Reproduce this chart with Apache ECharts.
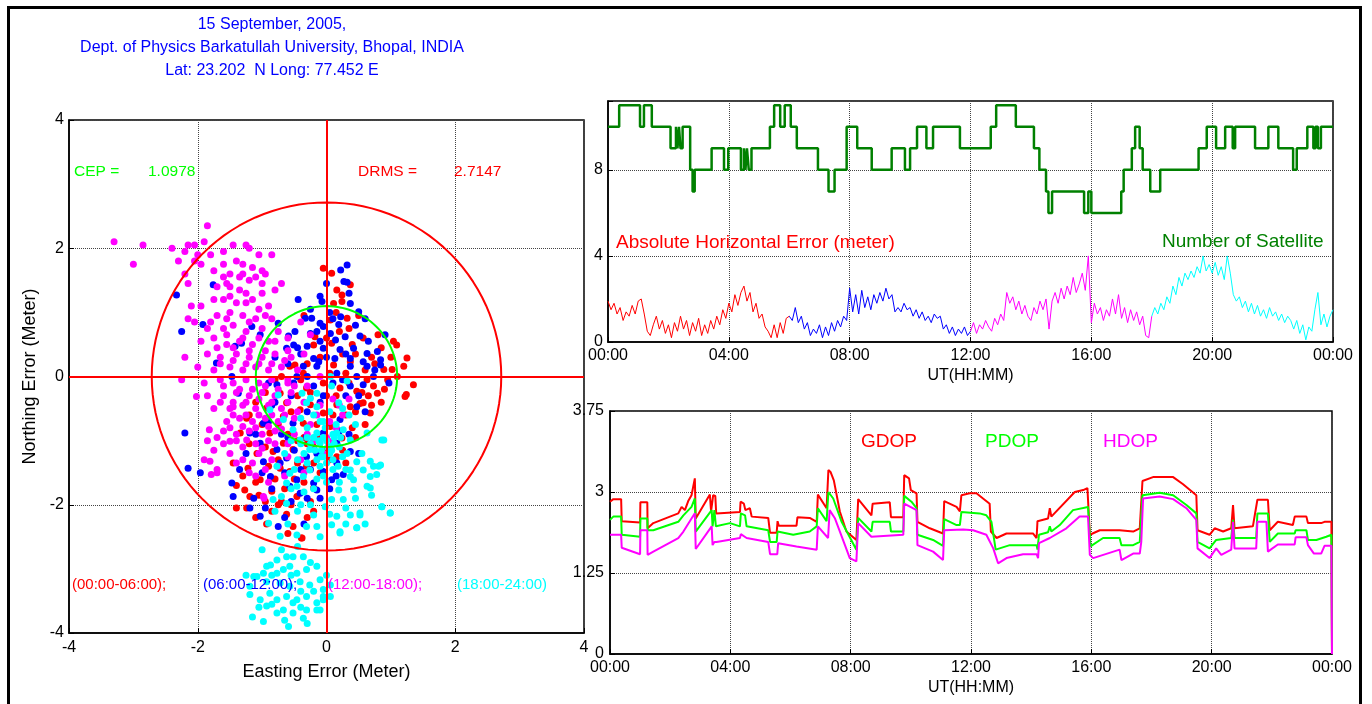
<!DOCTYPE html>
<html>
<head>
<meta charset="utf-8">
<title>GPS position error, 15 September 2005</title>
<script src="https://cdn.jsdelivr.net/npm/echarts@6.0.0/dist/echarts.min.js"></script>
<style>
html, body { margin: 0; padding: 0; background: #fff; }
#chart { width: 1372px; height: 704px; }
</style>
</head>
<body>
<div id="chart"></div>
<script>
// scatter of easting / northing error (meter), one array per 6 hour block
const ptsRed = [
  [-0.05, 1.69], [0.08, 1.61], [0.16, 1.35], [0.24, 1.27], [0.37, 1.43], [0.11, 1.14], [0.24, 1.17], [0.06, 0.88], [0.32, 0.91],
  [-0.18, 0.62], [-0.2, 0.49], [0.08, 0.52], [0.57, 0.6], [1.04, 0.55], [1.09, 0.49], [1.25, 0.29], [1.2, 0.16], [1.02, 0.11],
  [0.89, 0.11], [1.35, -0.13], [1.22, -0.31], [1.24, -0.28], [0.11, 0.18], [0.37, 0.23], [-0.49, 0.18], [-0.36, 0.05], [-0.57, 0.16],
  [0.63, -0.05], [0.73, -0.15], [0.79, -0.26], [0.47, -0.23], [0.21, -0.18], [-0.31, -0.18], [-0.72, -0.26], [-0.62, -0.41],
  [-0.25, -0.44], [0.16, -0.44], [0.57, -0.41], [-1.19, -1.87], [-1.4, -2.05], [-1.27, -1.77], [-1.22, -1.43], [-1.08, -1.2],
  [-1.03, -1.61], [-0.87, -1.58], [-0.85, -1.79], [-0.62, -2.15], [-0.52, -2.34], [-0.39, -2.52], [-0.46, -1.87], [-0.2, -1.74],
  [-1.34, -0.88], [-1.24, -0.65], [-0.93, -0.49], [-0.67, -0.62], [-0.41, -0.52], [-0.88, -0.88], [-0.67, -1.04], [-0.52, -1.14],
  [-0.36, -0.73], [-0.05, -0.57], [0.37, -0.47], [0.52, -0.42], [0.68, -0.57], [0.06, -0.78], [0.24, -0.96], [0.16, -1.25],
  [-0.72, -1.43], [-0.83, -1.17], [-0.57, -1.48], [-0.31, -1.4], [-1.24, -2.05], [-0.38, -2.52], [-0.93, -2.3],
  [-0.1, 0.3], [0.3, 0.05], [0.45, 0.35], [0.7, 0.3], [0.95, -0.05], [0.85, -0.4], [0.6, -0.75], [0.4, -0.8], [-0.15, -0.95],
  [-0.45, -0.3], [-0.8, -0.05], [-1.1, -0.4], [-1.0, -0.75], [-0.2, -1.1], [0.3, -1.35], [-0.65, -1.75], [-1.45, -1.35],
  [-0.95, -1.95], [0.0, -0.3], [0.2, 0.7], [-0.35, 0.95], [0.5, 0.95], [0.8, 0.65], [-0.75, -2.0], [-1.1, -2.2], [-0.3, -2.2],
  [-0.6, -0.9], [-0.45, -1.0], [-0.3, -1.05], [-0.75, -1.3], [-0.5, -1.6], [-0.35, -1.65], [-0.9, -1.4], [-1.1, -1.65],
  [-0.7, -1.95], [-0.55, -2.0], [-0.25, -1.95], [-0.1, -1.5], [0.0, -1.15], [0.1, -0.6], [0.3, -0.6], [0.45, -0.55],
  [0.55, -0.25], [0.35, -0.1], [0.15, -0.3], [-0.05, -0.1], [-0.25, -0.25], [-0.4, -0.05], [-0.55, -0.55], [-0.75, -0.75],
  [-0.95, -1.1], [-1.2, -1.05], [-1.3, -1.55], [-1.05, -1.85], [-0.85, -2.1], [0.4, 0.5], [0.6, 0.1], [0.85, 0.45], [1.0, 0.3],
  [0.9, -0.2], [0.7, -0.45], [0.25, 0.35], [0.05, 0.05], [-0.15, -0.75], [-0.35, -0.95], [-0.8, -1.6], [-0.45, -1.35],
  [-0.2, -1.35], [0.05, -1.3], [0.25, -1.15], [0.45, -0.95], [0.65, -0.3], [1.1, 0.0], [0.75, 0.2], [0.35, 0.75], [0.15, 1.0],
  [0.0, 0.6], [-0.3, 0.2], [-0.7, 0.0], [-0.95, -0.25], [-1.2, -0.6], [-1.4, -1.7], [-0.6, -2.45], [-0.2, -2.1]
];
const ptsBlue = [
  [0.32, 1.74], [0.22, 1.66], [0.27, 1.48], [0.32, 1.47], [-0.1, 1.25], [-0.07, 1.17], [-0.44, 1.2], [0.37, 1.14], [0.5, 1.01],
  [-0.33, 0.91], [-0.23, 0.91], [-0.1, 0.83], [-0.05, 0.78], [0.22, 0.93], [0.19, 0.81], [-0.75, 0.83], [-0.59, 0.63], [-0.49, 0.7],
  [-0.25, 0.67], [-0.15, 0.7], [0.06, 0.67], [0.14, 0.57], [0.29, 0.62], [0.52, 0.63], [0.91, 0.65], [-0.62, 0.44], [-0.51, 0.49],
  [-0.3, 0.47], [-0.05, 0.44], [0.21, 0.42], [0.42, 0.44], [0.63, 0.36], [0.79, 0.39], [0.84, 0.26], [-0.2, 0.28], [-0.12, 0.23],
  [0.13, 0.28], [0.37, 0.28], [0.57, 0.23], [-0.36, 0.16], [-0.15, 0.16], [0.37, 0.16], [0.63, 0.16], [0.84, 0.18], [-0.46, 0.0],
  [0.16, 0.05], [0.47, 0.0], [0.97, -0.1], [-0.9, -0.1], [-0.77, -0.13], [-0.51, -0.1], [0.37, -0.15], [0.57, -0.13], [0.73, 0.0],
  [-1.76, 1.43], [-2.33, 1.27], [-2.25, 0.7], [-1.92, 0.81], [-1.32, 0.52], [-1.42, 0.47], [-1.16, 0.78], [-1.03, 0.65],
  [-1.47, 0.0], [-1.71, 0.21], [-1.37, -0.26], [-2.2, -0.88], [-2.15, -1.43], [-1.96, -1.5], [-1.47, -1.66], [-1.19, -2.05],
  [-1.13, -1.9], [-1.03, -2.18], [-0.98, -1.33], [-0.87, -1.56], [-0.75, -2.34], [-0.72, -1.35], [-0.62, -1.27], [-0.57, -1.71],
  [-0.46, -1.61], [-0.41, -1.82], [-0.31, -1.25], [-0.2, -1.66], [-0.15, -1.77], [-0.05, -1.48], [0.08, -1.61], [0.16, -1.35],
  [0.26, -1.53], [0.37, -1.17], [0.5, -1.2], [0.16, -1.04], [-0.05, -0.88], [-0.31, -0.93], [-0.52, -0.73], [-0.77, -1.14],
  [-1.03, -1.04], [-1.19, -0.88], [-0.98, -0.73], [0.21, -0.67], [0.47, -0.47], [-1.45, -1.87], [-0.4, 0.35], [0.05, 1.0],
  [-0.85, -0.45], [-0.6, -0.95], [0.3, -0.3], [-0.1, -0.4],
  [-0.1, 0.55], [0.1, 0.9], [0.35, 1.3], [0.0, 1.45], [-0.25, 1.05], [0.45, 0.8], [0.65, 0.55], [0.75, 0.1], [0.5, -0.3],
  [0.25, -0.05], [0.0, 0.3], [-0.3, 0.0], [-0.55, -0.3], [-0.3, -0.55], [-0.05, -0.3], [0.2, -0.85], [-0.15, -1.2], [-0.4, -1.45],
  [-0.65, -1.5], [-0.85, -1.75], [-0.95, -2.05], [-0.55, -1.95], [-0.3, -1.9], [-0.1, -1.9], [0.05, -1.75], [-0.25, -1.45],
  [-0.5, -1.15], [-0.7, -0.9], [-0.9, -0.7], [-1.1, -0.9], [-1.25, -1.2], [-1.35, -1.45], [-0.8, -0.4], [-0.6, 0.2], [-0.8, 0.3],
  [0.6, 0.9], [0.1, -0.1], [-0.45, 0.45], [0.3, 0.35], [-0.2, -0.15], [0.6, -0.55], [0.35, -0.9], [0.15, -1.55], [-0.65, -2.2],
  [-0.35, -2.3], [-1.0, -1.5]
];
const ptsMagenta = [
  [-3.3, 2.1], [-2.85, 2.05], [-3.0, 1.75], [-2.4, 2.0], [-2.2, 1.95], [-2.15, 2.05], [-2.05, 2.05], [-1.9, 2.1], [-1.85, 2.35],
  [-2.3, 1.8], [-2.05, 1.8], [-1.8, 1.9], [-1.6, 1.95], [-1.45, 2.05], [-1.2, 2.0], [-1.25, 2.05], [-1.05, 1.9], [-0.85, 1.9],
  [-2.2, 1.6], [-2.15, 1.45], [-1.95, 1.75], [-1.6, 1.75], [-1.4, 1.8], [-1.3, 1.75], [-1.15, 1.7], [-1.0, 1.65], [-1.5, 1.6],
  [-1.55, 1.45], [-1.35, 1.55], [-1.2, 1.5], [-1.1, 1.55], [-0.95, 1.6], [-0.7, 1.45], [-1.7, 1.4], [-1.5, 1.4], [-1.35, 1.35],
  [-1.25, 1.3], [-1.0, 1.3], [-0.8, 1.35], [-2.1, 1.1], [-1.95, 1.1], [-1.6, 1.2], [-1.4, 1.15], [-1.15, 1.2], [-1.05, 1.05],
  [-0.9, 1.1], [-2.15, 0.9], [-2.05, 0.85], [-1.7, 0.95], [-1.5, 1.0], [-1.3, 0.95], [-1.1, 0.9], [-0.85, 0.9], [-1.85, 0.75],
  [-1.6, 0.75], [-1.45, 0.8], [-1.25, 0.7], [-1.0, 0.75], [-0.75, 0.7], [-1.95, 0.55], [-1.75, 0.6], [-1.55, 0.5], [-1.35, 0.55],
  [-1.15, 0.5], [-0.9, 0.55], [-0.6, 0.6], [-2.2, 0.3], [-1.85, 0.35], [-1.65, 0.3], [-1.4, 0.35], [-1.2, 0.3], [-1.0, 0.3],
  [-0.8, 0.35], [-0.55, 0.3], [-2.0, 0.15], [-1.75, 0.1], [-1.5, 0.15], [-1.3, 0.1], [-1.1, 0.15], [-0.9, 0.1], [-0.7, 0.15],
  [-0.45, 0.1], [-2.25, -0.05], [-1.9, -0.1], [-1.65, -0.05], [-1.45, -0.1], [-1.25, -0.05], [-1.05, -0.1], [-0.85, -0.05],
  [-0.6, -0.1], [-1.85, -0.3], [-1.6, -0.3], [-1.4, -0.25], [-1.2, -0.3], [-1.0, -0.25], [-0.8, -0.3], [-0.55, -0.25],
  [-1.75, -0.5], [-1.5, -0.5], [-1.3, -0.45], [-1.1, -0.5], [-0.9, -0.45], [-0.7, -0.5], [-1.55, -0.7], [-1.35, -0.65],
  [-1.15, -0.7], [-0.95, -0.65], [-0.75, -0.7], [-0.5, -0.65], [-1.6, -0.85], [-1.4, -0.9], [-1.2, -0.85], [-1.0, -0.9],
  [-0.8, -0.85], [-1.85, -1.0], [-1.6, -1.05], [-1.4, -1.0], [-1.1, -1.05], [-0.9, -1.0], [-1.75, -1.15], [-1.5, -1.2],
  [-1.3, -1.3], [-1.05, -1.2], [-1.9, -1.3], [-1.7, -1.45], [-1.2, -1.5], [-0.95, -1.45], [-0.65, -1.55], [-0.4, -1.3],
  [-0.3, -0.9], [-0.15, -0.6], [0.05, -0.7], [0.2, -0.45], [-0.35, -0.4], [-0.25, 0.65], [-0.4, 0.85], [-0.05, -1.2],
  [-0.1, 0.0], [0.35, -0.35], [-0.6, -1.25], [-0.35, -1.5], [0.1, -1.0], [-2.02, -0.31], [-1.82, -0.83], [-1.79, -1.53],
  [-1.5, -1.01], [-1.81, -1.32], [-1.7, -1.5], [-1.45, -0.47], [-1.24, -0.99], [-0.98, -1.87], [-0.97, -1.9],
  [-1.65, 0.2], [-1.45, 0.25], [-1.25, 0.2], [-1.05, 0.2], [-0.85, 0.2], [-0.65, 0.25], [-1.6, -0.15], [-1.35, -0.2],
  [-1.15, -0.2], [-0.95, -0.15], [-0.75, -0.2], [-0.5, -0.15], [-1.65, -0.4], [-1.45, -0.4], [-1.25, -0.4], [-1.05, -0.35],
  [-0.85, -0.4], [-0.6, -0.4], [-1.45, -0.6], [-1.25, -0.6], [-1.05, -0.6], [-0.85, -0.6], [-0.65, -0.6], [-1.5, -0.8],
  [-1.3, -0.78], [-1.1, -0.8], [-0.9, -0.78], [-0.7, -0.82], [-1.7, -0.95], [-1.3, -1.1], [-1.0, -1.12], [-0.8, -1.05],
  [-0.6, -1.05], [-1.4, -1.35], [-1.15, -1.35], [-0.85, -1.3], [-0.5, -0.9], [-0.25, -0.75], [-0.1, -0.45], [0.1, -0.35],
  [-0.45, -0.55], [-0.2, -1.0], [0.15, -0.8], [-1.55, 0.65], [-1.3, 0.6], [-1.05, 0.6], [-0.8, 0.55], [-1.7, 0.45],
  [-1.45, 0.45], [-1.2, 0.4], [-0.95, 0.4], [-1.8, 0.85], [-1.55, 0.9], [-1.2, 0.85], [-0.95, 0.95], [-1.75, 1.2], [-1.5, 1.25],
  [-1.25, 1.15], [-1.6, 1.55], [-1.3, 1.6], [-2.0, 1.9], [-1.75, 1.65], [-1.0, 1.45], [-0.6, 0.4], [-0.35, 0.35], [-0.6, -0.05],
  [-0.3, -0.15], [-0.9, -1.65], [-0.75, -1.4], [-1.1, -1.55], [0.25, -0.6], [0.0, -0.95]
];
const ptsCyan = [
  [-0.15, -0.88], [-0.1, -1.04], [-0.26, -1.14], [-0.41, -0.99], [-0.52, -0.83], [-0.67, -0.67], [-0.88, -0.52], [-0.77, -1.4],
  [-0.57, -1.51], [-0.62, -1.66], [-0.7, -1.87], [-0.62, -1.98], [-0.83, -1.92], [-0.9, -2.29], [-0.72, -2.49], [-0.46, -1.71],
  [-0.36, -1.56], [-0.26, -1.46], [-0.05, -1.25], [0.06, -1.09], [0.16, -0.88], [0.26, -0.83], [0.37, -0.99], [0.32, -1.2],
  [0.47, -1.33], [0.37, -1.46], [0.57, -1.46], [0.42, -1.61], [0.68, -1.56], [0.73, -1.4], [0.84, -1.38], [0.89, -0.99],
  [0.63, -0.88], [0.19, -1.77], [0.26, -1.92], [0.08, -1.92], [-0.02, -2.03], [-0.2, -2.16], [-0.15, -2.34], [-0.31, -2.34],
  [-0.46, -2.47], [0.08, -2.31], [0.21, -2.42], [0.47, -2.36], [0.52, -2.13], [0.37, -2.16], [0.16, -2.18], [0.86, -2.03],
  [0.99, -2.13], [0.63, -1.71], [0.68, -1.74], [0.78, -1.53], [-0.87, -2.94], [-0.77, -2.86], [-0.62, -2.81], [-0.52, -2.81],
  [-0.36, -2.81], [-0.98, -3.07], [-1.08, -3.12], [-1.19, -3.27], [-0.93, -3.2], [-0.77, -3.07], [-0.67, -3.01], [-0.57, -2.96],
  [-0.46, -3.07], [-0.31, -3.01], [-0.15, -2.96], [-0.72, -3.22], [-0.57, -3.27], [-0.41, -3.2], [-0.26, -3.25], [-0.1, -3.17],
  [-0.05, -3.32], [0.06, -3.43], [-0.88, -3.38], [-1.03, -3.48], [-1.19, -3.4], [-0.93, -3.58], [-0.77, -3.48], [-0.62, -3.43],
  [-0.46, -3.48], [-0.31, -3.43], [-0.15, -3.53], [-0.67, -3.64], [-0.52, -3.69], [-0.31, -3.64], [-0.15, -3.64], [-0.98, -3.82],
  [-0.59, -3.9], [-0.36, -3.77], [-0.77, -3.69], [-0.52, -3.53], [-0.05, -3.48], [-0.93, -2.96], [-1.13, -3.12], [0.86, -0.99],
  [0.68, -1.32], [0.81, -1.4], [0.99, -2.13], [0.86, -2.03], [0.52, -2.16], [0.47, -2.36], [0.21, -2.44], [0.42, -1.77],
  [0.37, -1.56], [0.06, -3.25], [-0.05, -3.43], [-0.1, -3.64], [-0.75, -0.29], [-0.38, -0.26], [-0.25, -0.34], [-0.15, -0.26],
  [0.08, -0.15], [0.32, -0.07], [0.19, -0.41], [-0.31, -0.41], [-0.15, -0.47], [0.06, 0.0], [-0.05, -0.95], [0.0, -1.0],
  [0.02, -1.1], [-0.08, -1.15], [0.05, -1.2], [-0.12, -1.0], [-0.2, -0.95], [-0.25, -1.05], [0.1, -0.9], [0.12, -1.05],
  [-0.02, -0.8], [-0.3, -0.8], [0.2, -1.1], [-0.15, -1.3], [0.0, -1.35], [-0.35, -1.2], [0.15, -0.75], [-0.1, -0.7],
  [-0.45, -1.3], [0.25, -1.25], [-0.05, -1.55], [0.1, -1.45], [-0.2, -1.75], [-0.4, -2.0],
  [-0.2, -0.6], [0.05, -0.55], [0.25, -0.5], [-0.4, -0.65], [-0.55, -1.0], [-0.65, -1.2], [-0.5, -1.45], [-0.3, -1.35],
  [-0.1, -1.4], [0.1, -1.3], [0.3, -1.45], [0.2, -1.65], [0.0, -1.65], [-0.15, -1.6], [-0.35, -1.8], [-0.55, -1.75],
  [-0.45, -2.1], [-0.25, -2.0], [0.05, -2.15], [0.3, -2.05], [0.45, -1.9], [0.55, -1.2], [0.45, -0.75], [0.35, -0.6],
  [-0.05, -0.7], [0.12, -0.95], [-0.3, -0.95], [-0.4, -1.05], [0.22, -0.95], [-0.18, -1.15], [0.08, -1.15], [-0.08, -1.25],
  [0.18, -1.4], [-0.6, -2.3], [-0.8, -2.1], [0.7, -1.85], [0.6, -2.3], [0.3, -2.3], [-0.1, -2.5], [-1.0, -2.7], [-0.7, -2.7],
  [-0.45, -2.65], [-0.25, -2.9], [-1.05, -3.6], [-1.15, -3.75], [-0.85, -3.1], [-0.55, -3.1], [-0.4, -3.35], [-0.2, -3.35],
  [-0.85, -3.55], [-0.65, -3.8], [-0.4, -3.6], [0.0, -3.1], [-1.25, -3.1], [-0.3, -3.85]
];
const cepRadius = 1.0978;
const drmsRadius = 2.7147;

// number of satellites: value holds from each time (hour UT) until the next
const satTimes = [0, 0.37, 1.06, 1.19, 1.45, 2.07, 2.25, 2.3, 2.35, 2.4, 2.47, 2.72, 2.8, 2.87, 3.43, 3.84, 3.98, 4.4, 4.5, 4.55, 4.6, 4.66, 4.75,
  5.36, 5.5, 5.7, 5.85, 6.05, 6.25, 6.3, 6.95, 7.3, 7.5, 7.9, 8.25, 8.73, 9.39, 9.83, 10.0, 10.23, 10.54, 10.76, 11.65,
  12.67, 12.85, 13.5, 14.1, 14.28, 14.5, 14.58, 14.7, 15.76, 15.9, 16.0, 16.99, 17.07, 17.34, 17.45, 17.6, 17.7, 17.95,
  18.28, 19.55, 19.82, 20.13, 20.43, 20.68, 20.76, 21.42, 21.86, 22.19, 22.68, 22.8, 23.15, 23.35, 23.42, 23.5, 23.6, 23.7, 24];
const satCounts = [10, 11, 10, 11, 10, 9, 10, 9, 10, 9, 10, 8, 7, 8, 9, 8, 9, 8, 9, 8, 9, 8, 9,
  10, 11, 10, 11, 10, 9, 9, 8, 7, 8, 10, 9, 8, 9, 8, 9, 10, 9, 10, 9,
  10, 11, 10, 9, 8, 7, 6, 7, 6, 7, 6, 7, 8, 9, 10, 9, 8, 7,
  8, 9, 10, 9, 10, 9, 10, 9, 10, 9, 8, 9, 10, 9, 10, 9, 10, 10, 10];

// absolute horizontal error (meter), one reading every 0.1 h inside each 6 h block
const errStep = 0.1;
const errRed = [1.9, 1.5, 1.8, 1.3, 1.6, 1.0, 1.4, 1.2, 1.7, 1.3, 1.9, 2.0, 1.3, 0.5, 0.3, 0.8, 1.2, 0.6, 1.0, 0.4,
  0.8, 0.2, 0.9, 0.5, 1.2, 0.6, 1.0, 0.3, 0.9, 0.5, 1.1, 0.3, 0.8, 0.4, 1.0, 0.6, 1.2, 0.8, 1.5, 1.1,
  1.8, 1.4, 2.2, 1.7, 2.3, 2.6, 1.9, 2.3, 1.4, 1.8, 1.1, 1.3, 0.7, 0.5, 0.2, 0.8, 0.2, 0.9, 0.4, 1.1, 1.2];
const errBlue = [1.2, 1.0, 1.6, 0.9, 1.2, 0.6, 0.9, 0.3, 0.6, 0.4, 0.8, 0.2, 0.7, 0.3, 0.9, 0.5, 1.0, 0.7, 1.2, 1.0,
  2.5, 1.4, 2.2, 1.3, 2.4, 1.6, 2.1, 1.5, 2.2, 1.8, 2.3, 1.9, 2.5, 2.0, 2.2, 1.4, 1.6, 1.4, 1.8, 1.5,
  1.6, 1.2, 1.5, 1.1, 1.4, 1.0, 1.2, 0.9, 1.3, 1.1, 1.2, 0.6, 0.8, 0.4, 0.7, 0.3, 0.6, 0.4, 0.7, 0.3, 0.5];
const errMagenta = [0.5, 0.9, 0.4, 0.8, 0.6, 1.0, 0.7, 0.5, 1.1, 0.8, 1.3, 1.0, 2.3, 1.8, 2.1, 1.5, 1.9, 1.3, 1.7, 1.2,
  1.0, 1.6, 1.3, 1.9, 1.5, 2.0, 0.6, 1.9, 2.3, 1.8, 2.5, 2.0, 2.6, 2.2, 3.0, 2.3, 2.7, 3.2, 2.4, 4.0,
  0.9, 1.8, 1.3, 1.6, 1.0, 1.5, 1.2, 2.0, 1.3, 2.2, 1.1, 1.6, 0.9, 1.5, 1.0, 1.4, 0.8, 1.2, 0.3, 0.2, 1.2];
const errCyan = [1.2, 1.6, 1.3, 1.8, 1.5, 2.1, 1.8, 2.6, 2.2, 3.0, 2.6, 3.2, 2.9, 3.3, 3.0, 3.5, 3.2, 4.0, 3.3, 3.6,
  3.2, 3.7, 3.1, 3.5, 2.9, 4.0, 3.2, 2.2, 1.9, 2.1, 1.6, 1.9, 1.4, 1.8, 1.3, 1.7, 1.2, 1.5, 1.1, 1.6,
  1.2, 1.4, 1.0, 1.3, 0.9, 1.2, 1.0, 0.6, 1.0, 0.4, 0.8, 0.1, 0.7, 0.5, 1.5, 2.3, 0.8, 1.3, 0.7, 1.2, 1.5];

// dilution of precision, [hour UT, value]
const gdop = [[0, 2.35], [0.11, 2.39], [0.37, 2.39], [0.39, 2.05], [1.0, 2.03], [1.01, 2.34], [1.24, 2.34], [1.25, 1.94],
  [1.44, 2.02], [2.27, 2.17], [2.38, 2.27], [2.49, 2.22], [2.6, 2.36], [2.71, 2.45], [2.82, 2.71], [2.85, 2.09], [3.32, 2.46],
  [3.36, 2.2], [3.43, 2.45], [3.5, 2.44], [3.53, 2.17], [4.32, 2.19], [4.34, 2.35], [4.45, 2.32], [4.5, 2.22], [4.65, 2.25],
  [4.71, 2.12], [5.26, 2.1], [5.32, 1.87], [5.54, 1.87], [5.57, 2.05], [5.61, 1.98], [6.2, 1.98], [6.23, 2.11], [6.64, 2.1],
  [6.87, 2.04], [6.91, 2.46], [7.2, 2.25], [7.26, 2.84], [7.33, 2.81], [7.44, 2.68], [7.64, 2.2], [7.86, 1.89], [8.19, 1.76],
  [8.25, 2.39], [8.69, 2.14], [8.73, 2.32], [9.3, 2.34], [9.34, 2.11], [9.75, 2.11], [9.78, 2.76], [9.94, 2.71], [10.0, 2.53],
  [10.19, 2.48], [10.22, 2.04], [10.63, 1.94], [11.07, 1.86], [11.11, 2.36], [11.52, 2.27], [11.63, 2.2], [11.68, 2.45],
  [11.96, 2.48], [12.18, 2.48], [12.62, 2.32], [12.66, 1.89], [12.85, 1.79], [13.18, 1.86], [14.06, 1.86], [14.18, 1.79],
  [14.21, 2.05], [14.56, 2.09], [14.62, 2.25], [14.67, 2.12], [15.45, 2.5], [15.73, 2.53], [15.87, 2.56], [15.95, 1.84],
  [16.28, 1.91], [16.94, 1.91], [17.0, 1.89], [17.39, 1.89], [17.61, 1.94], [17.7, 2.67], [18.05, 2.73], [18.72, 2.73],
  [19.05, 2.62], [19.49, 2.45], [19.53, 1.91], [19.93, 1.84], [20.1, 1.94], [20.38, 1.89], [20.65, 1.94], [20.71, 2.3],
  [20.76, 1.94], [21.37, 1.97], [21.52, 2.38], [21.87, 2.38], [21.93, 1.91], [22.2, 2.04], [22.7, 1.99], [22.76, 2.12],
  [23.15, 2.12], [23.2, 2.02], [23.64, 2.02], [23.75, 2.04], [23.98, 2.04], [24, 0]];
const pdop = [[0, 2.07], [0.11, 2.12], [0.37, 2.12], [0.39, 1.84], [1.0, 1.81], [1.01, 2.09], [1.24, 2.09], [1.25, 1.91],
  [1.44, 1.91], [2.27, 2.04], [2.44, 2.14], [2.71, 2.27], [2.82, 2.4], [2.85, 1.89], [3.38, 2.22], [3.41, 1.97], [3.47, 2.22],
  [3.52, 1.97], [3.99, 2.02], [4.32, 1.97], [4.35, 2.17], [4.49, 2.14], [4.54, 1.97], [5.26, 1.91], [5.32, 1.73], [5.54, 1.73],
  [5.57, 1.89], [6.09, 1.84], [6.64, 1.89], [6.87, 1.97], [6.91, 2.25], [7.2, 2.05], [7.26, 2.5], [7.42, 2.4], [7.7, 2.04],
  [8.19, 1.61], [8.25, 2.1], [8.69, 1.89], [8.73, 2.04], [9.3, 2.04], [9.34, 1.89], [9.75, 1.89], [9.78, 2.44], [10.02, 2.35],
  [10.19, 2.25], [10.22, 1.84], [10.74, 1.76], [11.07, 1.67], [11.11, 2.08], [11.52, 1.99], [11.63, 1.99], [11.68, 2.19],
  [12.29, 2.17], [12.51, 2.14], [12.68, 2.04], [12.82, 1.61], [13.29, 1.68], [14.18, 1.68], [14.21, 1.61], [14.26, 1.84],
  [14.56, 1.88], [14.62, 1.97], [14.67, 1.89], [14.95, 1.99], [15.39, 2.22], [15.89, 2.27], [15.97, 1.66], [16.39, 1.79],
  [16.94, 1.79], [17.0, 1.68], [17.39, 1.68], [17.61, 1.73], [17.7, 2.45], [18.27, 2.49], [18.72, 2.45], [19.16, 2.3],
  [19.49, 2.17], [19.53, 1.73], [19.93, 1.63], [20.15, 1.76], [20.65, 1.79], [20.71, 2.07], [20.76, 1.79], [21.48, 1.79],
  [21.52, 2.17], [21.87, 2.17], [21.93, 1.73], [22.2, 1.86], [22.76, 1.86], [22.79, 1.91], [23.15, 1.91], [23.2, 1.76],
  [23.48, 1.76], [23.81, 1.81], [23.98, 1.84], [24, 0]];
const hdop = [[0, 1.84], [0.37, 1.84], [0.39, 1.64], [1.0, 1.54], [1.01, 1.91], [1.24, 1.91], [1.25, 1.53], [1.44, 1.58],
  [2.27, 1.79], [2.44, 1.89], [2.71, 2.09], [2.82, 2.17], [2.85, 1.62], [3.38, 1.97], [3.41, 1.68], [3.47, 1.73], [3.54, 1.73],
  [4.32, 1.79], [4.35, 1.85], [4.54, 1.79], [5.26, 1.73], [5.32, 1.54], [5.56, 1.54], [5.59, 1.71], [6.2, 1.66], [6.87, 1.61],
  [6.91, 1.97], [7.25, 1.79], [7.3, 2.22], [7.48, 2.09], [7.81, 1.68], [7.97, 1.48], [8.19, 1.43], [8.25, 2.02], [8.69, 1.81],
  [8.73, 1.84], [9.75, 1.84], [9.78, 2.32], [10.19, 2.22], [10.22, 1.68], [10.74, 1.58], [11.07, 1.45], [11.11, 1.91],
  [11.74, 1.92], [12.07, 1.91], [12.51, 1.84], [12.74, 1.63], [12.9, 1.4], [13.18, 1.48], [13.73, 1.54], [14.18, 1.54],
  [14.23, 1.48], [14.26, 1.71], [14.62, 1.79], [15.17, 1.94], [15.61, 2.12], [15.89, 2.12], [15.95, 1.53], [16.06, 1.48],
  [16.94, 1.61], [17.0, 1.45], [17.39, 1.55], [17.61, 1.55], [17.66, 1.73], [17.72, 2.4], [18.27, 2.43], [18.72, 2.39],
  [19.16, 2.25], [19.49, 2.07], [19.53, 1.63], [19.93, 1.48], [20.15, 1.63], [20.32, 1.53], [20.65, 1.61], [20.71, 2.04],
  [20.76, 1.63], [21.48, 1.63], [21.52, 2.04], [21.82, 2.04], [21.87, 1.58], [22.2, 1.69], [22.76, 1.69], [22.79, 1.8],
  [23.15, 1.8], [23.2, 1.68], [23.4, 1.55], [23.64, 1.55], [23.75, 1.67], [23.98, 1.67], [24, 0]];

const hourTicks = ['00:00', '04:00', '08:00', '12:00', '16:00', '20:00', '00:00'];
const dopTickLabels = { 0: '0', 1.25: '1.25', 2.5: '3', 3.75: '3.75' };

const FONT = 'Arial, "Liberation Sans", sans-serif';

function circlePoints(r) {
  const pts = [];
  for (let a = 0; a <= 360; a += 3) {
    const rad = a * Math.PI / 180;
    pts.push([r * Math.cos(rad), r * Math.sin(rad)]);
  }
  return pts;
}
function errSeries(values, start) {
  return values.map((v, i) => [start + i * errStep, v]);
}
function satSeries() {
  return satTimes.map((t, i) => [t, satCounts[i]]);
}

const chart = echarts.init(document.getElementById('chart'));

const gridLine = { show: true, lineStyle: { color: '#444', type: 'dotted', width: 1 } };
const blackLine = { show: true, onZero: false, lineStyle: { color: '#000', width: 1.5 } };
const tick = { show: true, inside: true, length: 5, lineStyle: { color: '#000' } };
const labelStyle = { color: '#000', fontSize: 16, fontFamily: FONT };

function timeAxis(gridIndex) {
  return {
    type: 'value', gridIndex, min: 0, max: 24, interval: 4,
    name: 'UT(HH:MM)', nameLocation: 'middle', nameGap: 26,
    nameTextStyle: { color: '#000', fontSize: 16, fontFamily: FONT },
    axisLine: blackLine, axisTick: tick, splitLine: gridLine,
    axisLabel: Object.assign({ margin: 6, formatter: v => hourTicks[v / 4] }, labelStyle)
  };
}

function txt(text, x, y, color, size) {
  return { type: 'text', x, y, style: { text, fill: color, font: size + 'px ' + FONT, verticalAlign: 'middle' }, z: 100 };
}

const option = {
  backgroundColor: '#fff',
  animation: false,
  grid: [
    { left: 69, top: 120, width: 515, height: 513, show: true, borderColor: '#000', borderWidth: 1.5, backgroundColor: 'transparent' },
    { left: 608, top: 101, width: 725, height: 241, show: true, borderColor: '#000', borderWidth: 1.5, backgroundColor: 'transparent' },
    { left: 610, top: 411, width: 722, height: 243, show: true, borderColor: '#000', borderWidth: 1.5, backgroundColor: 'transparent' }
  ],
  xAxis: [
    {
      type: 'value', gridIndex: 0, min: -4, max: 4, interval: 2,
      name: 'Easting Error (Meter)', nameLocation: 'middle', nameGap: 30,
      nameTextStyle: { color: '#000', fontSize: 18, fontFamily: FONT },
      axisLine: blackLine, axisTick: tick, splitLine: gridLine,
      axisLabel: Object.assign({ margin: 7 }, labelStyle)
    },
    timeAxis(1),
    timeAxis(2)
  ],
  yAxis: [
    {
      type: 'value', gridIndex: 0, min: -4, max: 4, interval: 2,
      name: 'Northing Error (Meter)', nameLocation: 'middle', nameGap: 30,
      nameTextStyle: { color: '#000', fontSize: 18, fontFamily: FONT },
      axisLine: blackLine, axisTick: tick, splitLine: gridLine,
      axisLabel: Object.assign({ margin: 5 }, labelStyle)
    },
    {
      type: 'value', gridIndex: 1, min: 0, max: 11.2, interval: 4,
      axisLine: blackLine, axisTick: tick, splitLine: gridLine,
      axisLabel: Object.assign({ margin: 5, formatter: v => (v % 4 === 0 ? String(v) : '') }, labelStyle)
    },
    {
      type: 'value', gridIndex: 2, min: 0, max: 3.75, interval: 1.25,
      axisLine: blackLine, axisTick: tick, splitLine: gridLine,
      axisLabel: Object.assign({ margin: 6, formatter: v => dopTickLabels[v] || '' }, labelStyle)
    }
  ],
  graphic: [
    {
      type: 'rect', shape: { x: 8.5, y: 7.5, width: 1352, height: 720 },
      style: { fill: 'none', stroke: '#000', lineWidth: 3 }, z: 100
    },
    {
      type: 'text', x: 272, y: 13, z: 100,
      style: {
        text: '15 September, 2005,\nDept. of Physics Barkatullah University, Bhopal, INDIA\nLat: 23.202  N Long: 77.452 E',
        fill: '#0000ff', font: '16px ' + FONT, align: 'center', lineHeight: 23
      }
    },
    txt('CEP =', 74, 172, '#00ff00', 15.5),
    txt('1.0978', 148, 172, '#00ff00', 15.5),
    txt('DRMS =', 358, 172, '#ff0000', 15.5),
    txt('2.7147', 454, 172, '#ff0000', 15.5),
    txt('(00:00-06:00);', 72, 585, '#ff0000', 15),
    txt('(06:00-12:00);', 203, 585, '#0000ff', 15),
    txt('(12:00-18:00);', 328, 585, '#ff00ff', 15),
    txt('(18:00-24:00)', 457, 585, '#00ffff', 15),
    txt('Absolute Horizontal Error (meter)', 616, 243, '#ff0000', 19),
    txt('Number of Satellite', 1162, 242, '#008000', 19),
    txt('GDOP', 861, 442, '#ff0000', 19),
    txt('PDOP', 985, 442, '#00ff00', 19),
    txt('HDOP', 1103, 442, '#ff00ff', 19)
  ],
  series: [
    { type: 'scatter', xAxisIndex: 0, yAxisIndex: 0, data: ptsRed, symbolSize: 7, itemStyle: { color: '#ff0000', opacity: 1 }, z: 2 },
    { type: 'scatter', xAxisIndex: 0, yAxisIndex: 0, data: ptsBlue, symbolSize: 7, itemStyle: { color: '#0000ff', opacity: 1 }, z: 2 },
    { type: 'scatter', xAxisIndex: 0, yAxisIndex: 0, data: ptsMagenta, symbolSize: 7, itemStyle: { color: '#ff00ff', opacity: 1 }, z: 2 },
    { type: 'scatter', xAxisIndex: 0, yAxisIndex: 0, data: ptsCyan, symbolSize: 7, itemStyle: { color: '#00ffff', opacity: 1 }, z: 2 },
    {
      type: 'line', xAxisIndex: 0, yAxisIndex: 0, data: circlePoints(drmsRadius), showSymbol: false,
      lineStyle: { color: '#ff0000', width: 2 }, z: 4, silent: true,
      markLine: {
        silent: true, symbol: 'none', label: { show: false },
        lineStyle: { color: '#ff0000', width: 2, type: 'solid' },
        data: [{ xAxis: 0 }, { yAxis: 0 }]
      }
    },
    {
      type: 'line', xAxisIndex: 0, yAxisIndex: 0, data: circlePoints(cepRadius), showSymbol: false,
      lineStyle: { color: '#00ff00', width: 2 }, z: 4, silent: true
    },
    {
      type: 'line', xAxisIndex: 1, yAxisIndex: 1, data: satSeries(), step: 'end', showSymbol: false,
      lineStyle: { color: '#008000', width: 2.5 }
    },
    { type: 'line', xAxisIndex: 1, yAxisIndex: 1, data: errSeries(errRed, 0), showSymbol: false, lineStyle: { color: '#ff0000', width: 1 } },
    { type: 'line', xAxisIndex: 1, yAxisIndex: 1, data: errSeries(errBlue, 6), showSymbol: false, lineStyle: { color: '#0000ff', width: 1 } },
    { type: 'line', xAxisIndex: 1, yAxisIndex: 1, data: errSeries(errMagenta, 12), showSymbol: false, lineStyle: { color: '#ff00ff', width: 1 } },
    { type: 'line', xAxisIndex: 1, yAxisIndex: 1, data: errSeries(errCyan, 18), showSymbol: false, lineStyle: { color: '#00ffff', width: 1 } },
    { type: 'line', xAxisIndex: 2, yAxisIndex: 2, data: gdop, showSymbol: false, lineStyle: { color: '#ff0000', width: 2 } },
    { type: 'line', xAxisIndex: 2, yAxisIndex: 2, data: pdop, showSymbol: false, lineStyle: { color: '#00ff00', width: 2 } },
    { type: 'line', xAxisIndex: 2, yAxisIndex: 2, data: hdop, showSymbol: false, lineStyle: { color: '#ff00ff', width: 2 } }
  ]
};

chart.setOption(option);
</script>
</body>
</html>
